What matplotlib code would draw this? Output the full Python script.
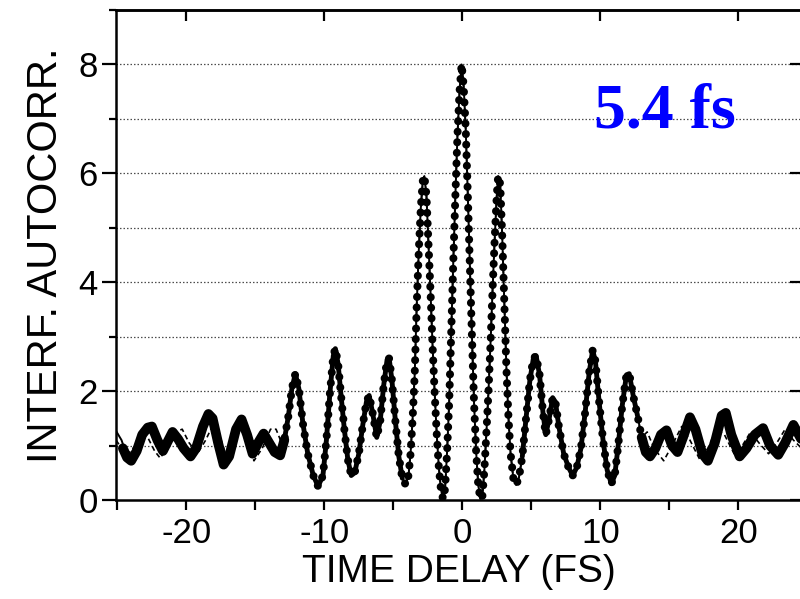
import numpy as np
import matplotlib
matplotlib.use("Agg")
import matplotlib.pyplot as plt
from matplotlib.ticker import MultipleLocator

# central fringes (measurement, fit and sech^2 fit all sit on top of each other)
core_t = [-12.9, -12.6, -12.35, -12.1, -11.85, -11.55, -11.2, -10.8, -10.45, -10.1,
          -9.85, -9.6, -9.35, -9.2, -9.0, -8.8, -8.55, -8.3, -8.05, -7.8,
          -7.5, -7.2, -6.95, -6.75, -6.5, -6.2, -5.95, -5.7, -5.45, -5.3,
          -5.1, -4.85, -4.6, -4.35, -4.1, -3.9, -3.75, -3.6, -3.45, -3.3,
          -3.15, -3.0, -2.85, -2.75, -2.6, -2.45, -2.3, -2.15, -2.0, -1.85,
          -1.7, -1.55, -1.4, -1.25, -1.1, -0.95, -0.8, -0.65, -0.5, -0.35,
          -0.2, -0.05, 0.1, 0.25, 0.4, 0.55, 0.7, 0.85, 1.0, 1.15,
          1.3, 1.45, 1.6, 1.75, 1.9, 2.05, 2.2, 2.35, 2.5, 2.6,
          2.75, 2.9, 3.05, 3.2, 3.35, 3.5, 3.7, 3.9, 4.1, 4.35,
          4.6, 4.9, 5.15, 5.35, 5.6, 5.85, 6.05, 6.3, 6.55, 6.75,
          7.0, 7.35, 7.7, 8.0, 8.3, 8.6, 8.9, 9.2, 9.45, 9.65,
          9.9, 10.2, 10.5, 10.8, 11.05, 11.3, 11.6, 11.9, 12.1, 12.4,
          12.7, 13.0]
core_y = [1.1, 1.55, 2.05, 2.32, 2.05, 1.4, 0.85, 0.45, 0.25, 0.45,
          1.1, 1.95, 2.65, 2.78, 2.5, 1.95, 1.3, 0.75, 0.45, 0.5,
          0.85, 1.4, 1.8, 1.92, 1.6, 1.15, 1.45, 2.1, 2.58, 2.6,
          2.2, 1.45, 0.8, 0.4, 0.28, 0.45, 0.85, 1.5, 2.3, 3.6,
          4.6, 5.4, 5.9, 5.95, 5.6, 4.7, 3.8, 2.8, 1.95, 1.2,
          0.6, 0.2, 0.02, 0.2, 0.9, 1.8, 3.1, 4.4, 5.6, 6.7,
          7.5, 8.0, 7.6, 6.8, 5.6, 4.3, 3.0, 1.8, 0.9, 0.3,
          0.02, 0.05, 0.55, 1.25, 2.0, 2.9, 3.9, 4.8, 5.6, 5.95,
          5.8, 4.8, 3.6, 2.4, 1.5, 0.85, 0.4, 0.28, 0.4, 0.8,
          1.45, 2.2, 2.6, 2.65, 2.3, 1.6, 1.2, 1.5, 1.88, 1.8,
          1.35, 0.85, 0.6, 0.45, 0.6, 0.95, 1.6, 2.35, 2.75, 2.55,
          1.85, 1.1, 0.55, 0.3, 0.45, 1.0, 1.75, 2.3, 2.32, 1.9,
          1.55, 1.15]

# measured points in the wings
meas_left_t = [-24.6, -24.3, -24.0, -23.6, -23.2, -22.8, -22.5, -22.1, -21.7, -21.3,
               -21.0, -20.6, -20.2, -19.7, -19.3, -18.8, -18.4, -18.1, -17.7, -17.3,
               -16.9, -16.4, -16.0, -15.6, -15.2, -14.8, -14.4, -14.0, -13.6, -13.2]
meas_left_y = [0.95, 0.78, 0.72, 0.9, 1.2, 1.33, 1.35, 1.1, 0.9, 1.1,
               1.25, 1.12, 0.95, 0.8, 0.95, 1.35, 1.58, 1.5, 1.05, 0.65,
               0.8, 1.3, 1.48, 1.2, 0.85, 1.05, 1.22, 1.05, 0.88, 0.82]
meas_right_t = [13.3, 13.6, 14.0, 14.4, 14.8, 15.2, 15.6, 16.0, 16.5, 16.9,
                17.4, 17.8, 18.3, 18.8, 19.1, 19.5, 20.1, 20.6, 21.2, 21.8,
                22.3, 22.9, 23.4, 24.0, 24.6]
meas_right_y = [0.88, 0.8, 0.95, 1.2, 1.28, 1.0, 0.88, 1.15, 1.52, 1.3,
                0.85, 0.72, 1.05, 1.55, 1.6, 1.2, 0.8, 0.95, 1.2, 1.32,
                1.0, 0.83, 1.05, 1.38, 1.1]

# fit (solid line) in the wings
fit_left_t = [-25.1, -24.7, -24.4, -24.0, -23.6, -23.2, -22.6, -22.1, -21.7, -21.2,
              -20.8, -20.2, -19.7, -19.2, -18.7, -18.3, -17.8, -17.3, -16.8, -16.2,
              -15.9, -15.4, -15.1, -14.6, -14.3, -13.9, -13.5, -13.1]
fit_left_y = [1.27, 1.1, 0.88, 0.75, 0.88, 1.18, 1.3, 1.08, 0.9, 1.12,
              1.2, 0.95, 0.82, 1.0, 1.35, 1.5, 1.15, 0.68, 0.85, 1.35,
              1.42, 1.1, 0.85, 1.1, 1.18, 1.0, 0.9, 0.95]
fit_right_t = [13.3, 13.7, 14.2, 14.7, 15.1, 15.6, 16.1, 16.5, 16.9, 17.4,
               17.8, 18.3, 18.8, 19.1, 19.6, 20.1, 20.6, 21.2, 21.8, 22.3,
               22.9, 23.4, 24.0, 24.6]
fit_right_y = [0.9, 0.82, 1.05, 1.25, 1.05, 0.85, 1.15, 1.45, 1.25, 0.85,
               0.7, 1.0, 1.45, 1.5, 1.1, 0.8, 0.92, 1.15, 1.25, 1.0,
               0.85, 1.0, 1.3, 1.1]

# second fit (dashed line) in the wings
dash_left_t = [-25.1, -24.6, -24.2, -23.7, -23.2, -22.8, -22.3, -21.9, -21.4, -20.8,
               -20.3, -19.8, -19.2, -18.6, -18.0, -17.6, -17.1, -16.7, -16.3, -15.8,
               -15.1, -14.5, -13.9, -13.5, -13.1]
dash_left_y = [1.1, 0.92, 0.85, 1.0, 1.2, 1.15, 0.9, 0.77, 0.95, 1.25,
               1.3, 1.05, 0.85, 1.1, 1.42, 1.2, 0.8, 0.9, 1.38, 1.2,
               0.72, 0.95, 1.3, 1.3, 1.05]
dash_right_t = [13.4, 13.9, 14.6, 15.2, 15.9, 16.5, 17.2, 17.8, 18.4, 19.0,
                19.7, 20.3, 20.9, 21.5, 22.2, 22.8, 23.4, 24.0, 24.6]
dash_right_y = [1.25, 0.95, 0.72, 1.0, 1.35, 1.1, 0.75, 0.95, 1.3, 1.2,
                0.85, 1.0, 1.25, 1.05, 0.85, 1.05, 1.3, 1.1, 0.95]

x_ticks = [-20, -10, 0, 10, 20]
y_ticks = [0, 2, 4, 6, 8]
pulse_label = "5.4 fs"


def join(left_t, left_y, right_t, right_y):
    t = np.concatenate([left_t, core_t, right_t])
    y = np.concatenate([left_y, core_y, right_y])
    return t, y


meas_t, meas_y = join(meas_left_t, meas_left_y, meas_right_t, meas_right_y)
fit_t, fit_y = join(fit_left_t, fit_left_y, fit_right_t, fit_right_y)
dash_t, dash_y = join(dash_left_t, dash_left_y, dash_right_t, dash_right_y)

plt.rcParams["font.family"] = ["Liberation Sans", "DejaVu Sans"]
plt.rcParams["axes.unicode_minus"] = False

fig = plt.figure(figsize=(8.0, 5.99), dpi=100)
ax = fig.add_axes([116 / 800, 99 / 599, 685 / 800, 490 / 599])

for yv in range(1, 9):
    ax.axhline(yv, color="0.3", lw=0.9, ls=(0, (1.2, 1.6)), zorder=0)

ax.plot(dash_t, dash_y, color="k", lw=1.2, ls=(0, (3, 2)), zorder=2)
ax.plot(fit_t, fit_y, color="k", lw=1.4, zorder=3)

# measured points: dense markers; in the wings they merge into a band
mid = (np.abs(meas_t) > 4.3) & (np.abs(meas_t) < 13.0)
for side in (meas_t < -12.8, meas_t > 12.8):
    ax.plot(meas_t[side], meas_y[side], color="k", lw=7, solid_capstyle="round",
            solid_joinstyle="round", zorder=4)
for side in (mid & (meas_t < 0), mid & (meas_t > 0)):
    ax.plot(meas_t[side], meas_y[side], color="k", lw=3.5, solid_capstyle="round",
            solid_joinstyle="round", zorder=4)
ax.plot(meas_t, meas_y, color="k", lw=5.8, ls=(0, (0.01, 1.3)),
        dash_capstyle="round", zorder=4)

ax.text(9.55, 6.84, pulse_label, color="#0000ff", fontsize=46, fontweight="bold",
        family="Liberation Serif", ha="left", va="baseline")

ax.set_xlim(-25.1, 24.55)
ax.set_ylim(0, 9)
ax.xaxis.set_minor_locator(MultipleLocator(5))
ax.yaxis.set_minor_locator(MultipleLocator(1))
ax.set_xticks(x_ticks)
ax.set_yticks(y_ticks)
ax.tick_params(axis="x", which="both", direction="out", length=7, width=1.6,
               labelsize=25, pad=5)
ax.tick_params(axis="y", which="major", direction="out", length=10, width=1.6,
               labelsize=25, pad=3)
ax.tick_params(axis="y", which="minor", direction="out", length=5, width=1.6)

top = ax.secondary_xaxis("top")
top.set_xticks(x_ticks)
top.tick_params(direction="in", length=8, width=1.6, labeltop=False)
right = ax.secondary_yaxis("right")
right.set_yticks(y_ticks)
right.tick_params(direction="in", length=8, width=1.6, labelright=False)
for sp in list(ax.spines.values()) + [top.spines["top"], right.spines["right"]]:
    sp.set_linewidth(1.8)

ax.set_xlabel("TIME DELAY (FS)", fontsize=28, labelpad=3)
ax.set_ylabel("INTERF. AUTOCORR.", fontsize=30, labelpad=9)

fig.savefig("out.png", dpi=100)
